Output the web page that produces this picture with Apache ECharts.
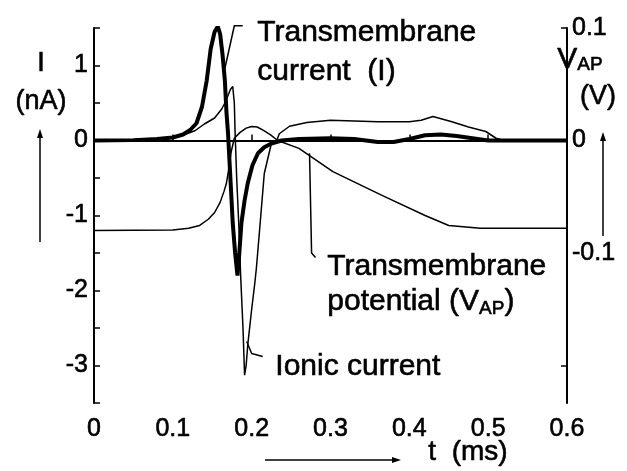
<!DOCTYPE html>
<html>
<head>
<meta charset="utf-8">
<script src="https://cdn.jsdelivr.net/npm/echarts@6/dist/echarts.min.js"></script>
<style>
  html, body { margin: 0; padding: 0; background: #fff; }
  #chart { width: 627px; height: 471px; }
</style>
</head>
<body>
<div id="chart"></div>
<script>
// transmembrane current I (nA), thick curve
const tCurrent = [0, 0.05, 0.08, 0.1, 0.113, 0.122, 0.13, 0.137, 0.143, 0.148, 0.153, 0.157, 0.16, 0.163, 0.166, 0.168, 0.17, 0.172, 0.176, 0.179, 0.182, 0.184, 0.187, 0.191, 0.195, 0.201, 0.208, 0.216, 0.225, 0.238, 0.26, 0.3, 0.33, 0.36, 0.38, 0.4, 0.42, 0.44, 0.46, 0.48, 0.5, 0.6];
const current = [0, 0.005, 0.02, 0.04, 0.08, 0.14, 0.23, 0.45, 0.8, 1.22, 1.45, 1.52, 1.42, 1.15, 0.8, 0.38, 0.1, -0.3, -1.1, -1.5, -1.8, -1.55, -1.1, -0.8, -0.57, -0.33, -0.17, -0.09, -0.04, 0, 0.02, 0.03, 0.02, -0.02, -0.02, 0.02, 0.07, 0.08, 0.06, 0.03, 0, 0];

// ionic current (nA), thin curve
const tIonic = [0, 0.06, 0.09, 0.1, 0.115, 0.128, 0.14, 0.153, 0.162, 0.166, 0.17, 0.173, 0.176, 0.178, 0.179, 0.181, 0.184, 0.186, 0.189, 0.191, 0.193, 0.195, 0.2, 0.204, 0.206, 0.21, 0.216, 0.225, 0.232, 0.235, 0.248, 0.27, 0.3, 0.33, 0.36, 0.4, 0.415, 0.43, 0.454, 0.475, 0.497, 0.51, 0.52, 0.6];
const ionic = [0, 0, 0.02, 0.04, 0.08, 0.13, 0.22, 0.3, 0.42, 0.5, 0.6, 0.68, 0.72, 0.5, 0.1, -0.5, -1.2, -1.8, -2.5, -3.13, -3.0, -2.73, -2.25, -1.9, -1.7, -1.2, -0.44, -0.04, 0, 0.09, 0.19, 0.24, 0.27, 0.26, 0.25, 0.25, 0.27, 0.32, 0.25, 0.18, 0.12, 0.03, 0, 0];

// transmembrane potential V_AP (V), thin curve on right axis
const tPotential = [0, 0.1, 0.12, 0.134, 0.145, 0.153, 0.16, 0.165, 0.168, 0.171, 0.174, 0.178, 0.185, 0.193, 0.2, 0.207, 0.215, 0.224, 0.233, 0.26, 0.303, 0.366, 0.42, 0.45, 0.49, 0.6];
const potential = [-0.08, -0.0795, -0.078, -0.0755, -0.07, -0.064, -0.055, -0.045, -0.038, -0.025, -0.01, 0.002, 0.007, 0.011, 0.0125, 0.012, 0.009, 0.005, 0, -0.007, -0.0276, -0.049, -0.0667, -0.0755, -0.078, -0.078];

// label leader lines, in data units of the left axis
const leaderCurrent = [[0.1886, 1.53], [0.178, 1.53], [0.166, 0.96]];
const leaderPotential = [[0.2734, -0.17], [0.276, -1.5], [0.281, -1.56]];
const leaderIonic = [[0.1937, -2.68], [0.2, -2.84], [0.214, -2.88]];

const xTicks = { min: 0, max: 0.6, interval: 0.1 };
const leftTicks = { min: -3.5, max: 1.5, interval: 0.5 };
const rightLabels = [-0.1, 0, 0.1];

const zip = (a, b) => a.map((v, i) => [v, b[i]]);
const font = 'Liberation Sans, Arial, Helvetica, sans-serif';
// scanned print looks a bit heavier than plain regular
const ink = { textBorderColor: '#000', textBorderWidth: 0.6 };

let chart = echarts.init(document.getElementById('chart'));

const thin = { color: '#000', width: 1.5 };
const label = (size) => Object.assign({ fontSize: size, color: '#000', fontFamily: font }, ink);
const txt = (extra) => Object.assign({ fill: '#000', stroke: '#000', lineWidth: 0.6 }, extra);

chart.setOption({
  animation: false,
  backgroundColor: '#fff',
  textStyle: { fontFamily: font, color: '#000' },
  grid: { left: 94, right: 60, top: 28, bottom: 68 },
  xAxis: {
    type: 'value',
    min: xTicks.min, max: xTicks.max, interval: xTicks.interval,
    axisLine: { lineStyle: { color: '#000', width: 2 } },
    axisTick: { inside: true, length: 6, lineStyle: { color: '#000', width: 1.5 } },
    axisLabel: Object.assign(label(25), { margin: 14 }),
    splitLine: { show: false }
  },
  yAxis: [
    {
      type: 'value',
      position: 'left',
      min: leftTicks.min, max: leftTicks.max, interval: leftTicks.interval,
      axisLine: { show: true, lineStyle: { color: '#000', width: 2 } },
      axisTick: { inside: true, length: 6, lineStyle: { color: '#000', width: 1.5 } },
      axisLabel: Object.assign(label(25), {
        margin: 6,
        formatter: v => Number.isInteger(v) ? String(v) : ''
      }),
      splitLine: { show: false }
    },
    {
      type: 'value',
      position: 'right',
      min: -0.7 / 3, max: 0.1,
      axisLine: { show: true, lineStyle: { color: '#000', width: 2 } },
      axisTick: { show: true, inside: true, length: 6, customValues: [-0.2, 0.1], lineStyle: { color: '#000', width: 1.5 } },
      axisLabel: Object.assign(label(25), { margin: 5, customValues: rightLabels, showMinLabel: true, showMaxLabel: true }),
      splitLine: { show: false }
    }
  ],
  series: [
    {
      name: 'Ionic current', type: 'line', yAxisIndex: 0,
      data: zip(tIonic, ionic), showSymbol: false, lineStyle: thin, z: 3
    },
    {
      name: 'Transmembrane potential', type: 'line', yAxisIndex: 1,
      data: zip(tPotential, potential), showSymbol: false, lineStyle: thin, z: 3
    },
    {
      name: 'Transmembrane current', type: 'line', yAxisIndex: 0,
      data: zip(tCurrent, current), showSymbol: false, lineStyle: { color: '#000', width: 4 }, z: 4
    },
    { type: 'line', data: leaderCurrent, showSymbol: false, clip: false, lineStyle: thin, z: 3 },
    { type: 'line', data: leaderPotential, showSymbol: false, clip: false, lineStyle: thin, z: 3 },
    { type: 'line', data: leaderIonic, showSymbol: false, clip: false, lineStyle: thin, z: 3 }
  ],
  graphic: [
    { type: 'text', left: 257, top: 17, style: txt({ text: 'Transmembrane', font: '30px ' + font }) },
    { type: 'text', left: 257, top: 56, style: txt({ text: 'current  (I)', font: '30px ' + font }) },
    { type: 'text', left: 327, top: 251, style: txt({ text: 'Transmembrane', font: '30px ' + font }) },
    {
      type: 'text', left: 327, top: 286,
      style: txt({
        text: '{a|potential (V}{s|AP}{a|)}',
        rich: {
          a: { fontSize: 30, fontFamily: font, lineHeight: 34, verticalAlign: 'middle' },
          s: { fontSize: 19, fontFamily: font, lineHeight: 20, verticalAlign: 'bottom' }
        }
      })
    },
    { type: 'text', left: 275, top: 351, style: txt({ text: 'Ionic current', font: '30px ' + font }) },
    { type: 'text', x: 41, y: 64, style: txt({ text: 'I', font: '27px ' + font, align: 'center', verticalAlign: 'middle' }) },
    { type: 'text', x: 41, y: 102, style: txt({ text: '(nA)', font: '27px ' + font, align: 'center', verticalAlign: 'middle' }) },
    {
      type: 'text', left: 557, top: 44,
      style: txt({
        text: '{a|V}{s|AP}',
        rich: {
          a: { fontSize: 30, fontFamily: font, lineHeight: 30, verticalAlign: 'middle' },
          s: { fontSize: 19, fontFamily: font, lineHeight: 22, verticalAlign: 'bottom' }
        }
      })
    },
    { type: 'text', x: 598, y: 97, style: txt({ text: '(V)', font: '27px ' + font, align: 'center', verticalAlign: 'middle' }) },
    { type: 'text', left: 428, top: 438, style: txt({ text: 't  (ms)', font: '28px ' + font }) },
    // up arrow, left
    { type: 'line', shape: { x1: 40, y1: 242, x2: 40, y2: 134 }, style: { stroke: '#000', lineWidth: 1.5 } },
    { type: 'polygon', shape: { points: [[40, 129], [37, 138], [43, 138]] }, style: { fill: '#000' } },
    // up arrow, right
    { type: 'line', shape: { x1: 603, y1: 236, x2: 603, y2: 137 }, style: { stroke: '#000', lineWidth: 1.5 } },
    { type: 'polygon', shape: { points: [[603, 132], [600, 141], [606, 141]] }, style: { fill: '#000' } },
    // time arrow
    { type: 'line', shape: { x1: 265, y1: 460, x2: 396, y2: 460 }, style: { stroke: '#000', lineWidth: 1.5 } },
    { type: 'polygon', shape: { points: [[401, 460], [392, 457], [392, 463]] }, style: { fill: '#000' } }
  ]
});
</script>
</body>
</html>
